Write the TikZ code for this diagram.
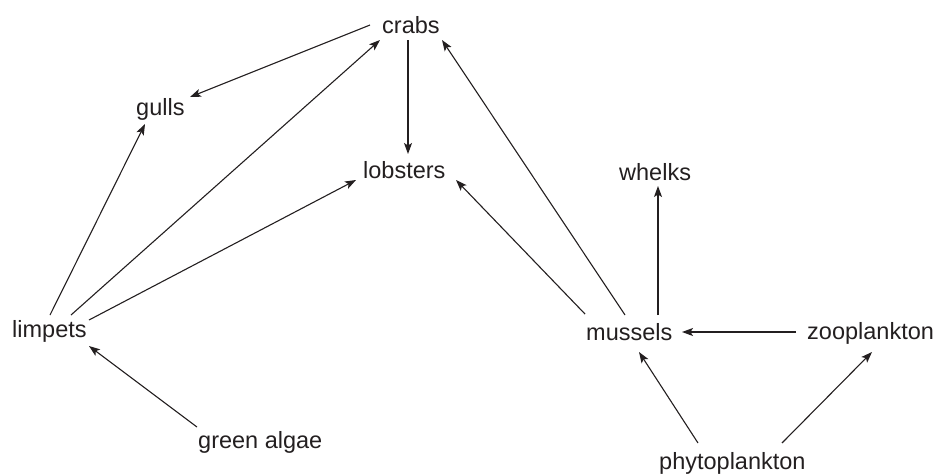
\documentclass[tikz,border=0pt]{standalone}
\usepackage{fontspec}
\setmainfont{Liberation Sans}
\usetikzlibrary{arrows.meta,calc}
\definecolor{ink}{HTML}{231F20}
\begin{document}
\begin{tikzpicture}[x=1pt,y=-1pt,
  lbl/.style={anchor=base west,inner sep=0pt,text=ink,font=\fontsize{23.5}{28}\selectfont},
  link/.style={draw=ink,line width=1.1pt,-{Stealth[length=11pt,width=8pt,inset=2.5pt]}}]
\useasboundingbox (0,0) rectangle (941,475);
\node[lbl] (crabs) at (382,33) {crabs};
\node[lbl] (gulls) at (136,115) {gulls};
\node[lbl] (lobsters) at (363,178) {lobsters};
\node[lbl] (limpets) at (12,337) {limpets};
\node[lbl] (green) at (198,448) {green algae};
\node[lbl] (whelks) at (619,180) {whelks};
\node[lbl] (mussels) at (586,340) {mussels};
\node[lbl] (zoo) at (807,339) {zooplankton};
\node[lbl] (phyto) at (659,469) {phytoplankton};
\path[link] ($(crabs.base west)+(-12,-8)$) -- ($(gulls.base west)+(54,-18)$);
\path[link] ($(limpets.base west)+(59,-22)$) -- ($(crabs.base west)+(-2,7)$);
\path[link] ($(limpets.base west)+(38,-22)$) -- ($(gulls.base west)+(9,9)$);
\path[link] ($(limpets.base west)+(77,-17)$) -- ($(lobsters.base west)+(-7,2)$);
\path[link] ($(crabs.base west)+(26,7)$) -- ($(lobsters.base west)+(45,-24)$);
\path[link] ($(mussels.base west)+(39,-25)$) -- ($(crabs.base west)+(60,7)$);
\path[link] ($(mussels.base west)+(-1,-26)$) -- ($(lobsters.base west)+(93,2)$);
\path[link] ($(mussels.base west)+(72,-25)$) -- ($(whelks.base west)+(39,6)$);
\path[link] ($(zoo.base west)+(-11,-7)$) -- ($(mussels.base west)+(96,-8)$);
\path[link] ($(phyto.base west)+(39,-26)$) -- ($(mussels.base west)+(53,12)$);
\path[link] ($(phyto.base west)+(123,-26)$) -- ($(zoo.base west)+(65,13)$);
\path[link] ($(green.base west)+(-1,-21)$) -- ($(limpets.base west)+(77,9)$);
\end{tikzpicture}
\end{document}
